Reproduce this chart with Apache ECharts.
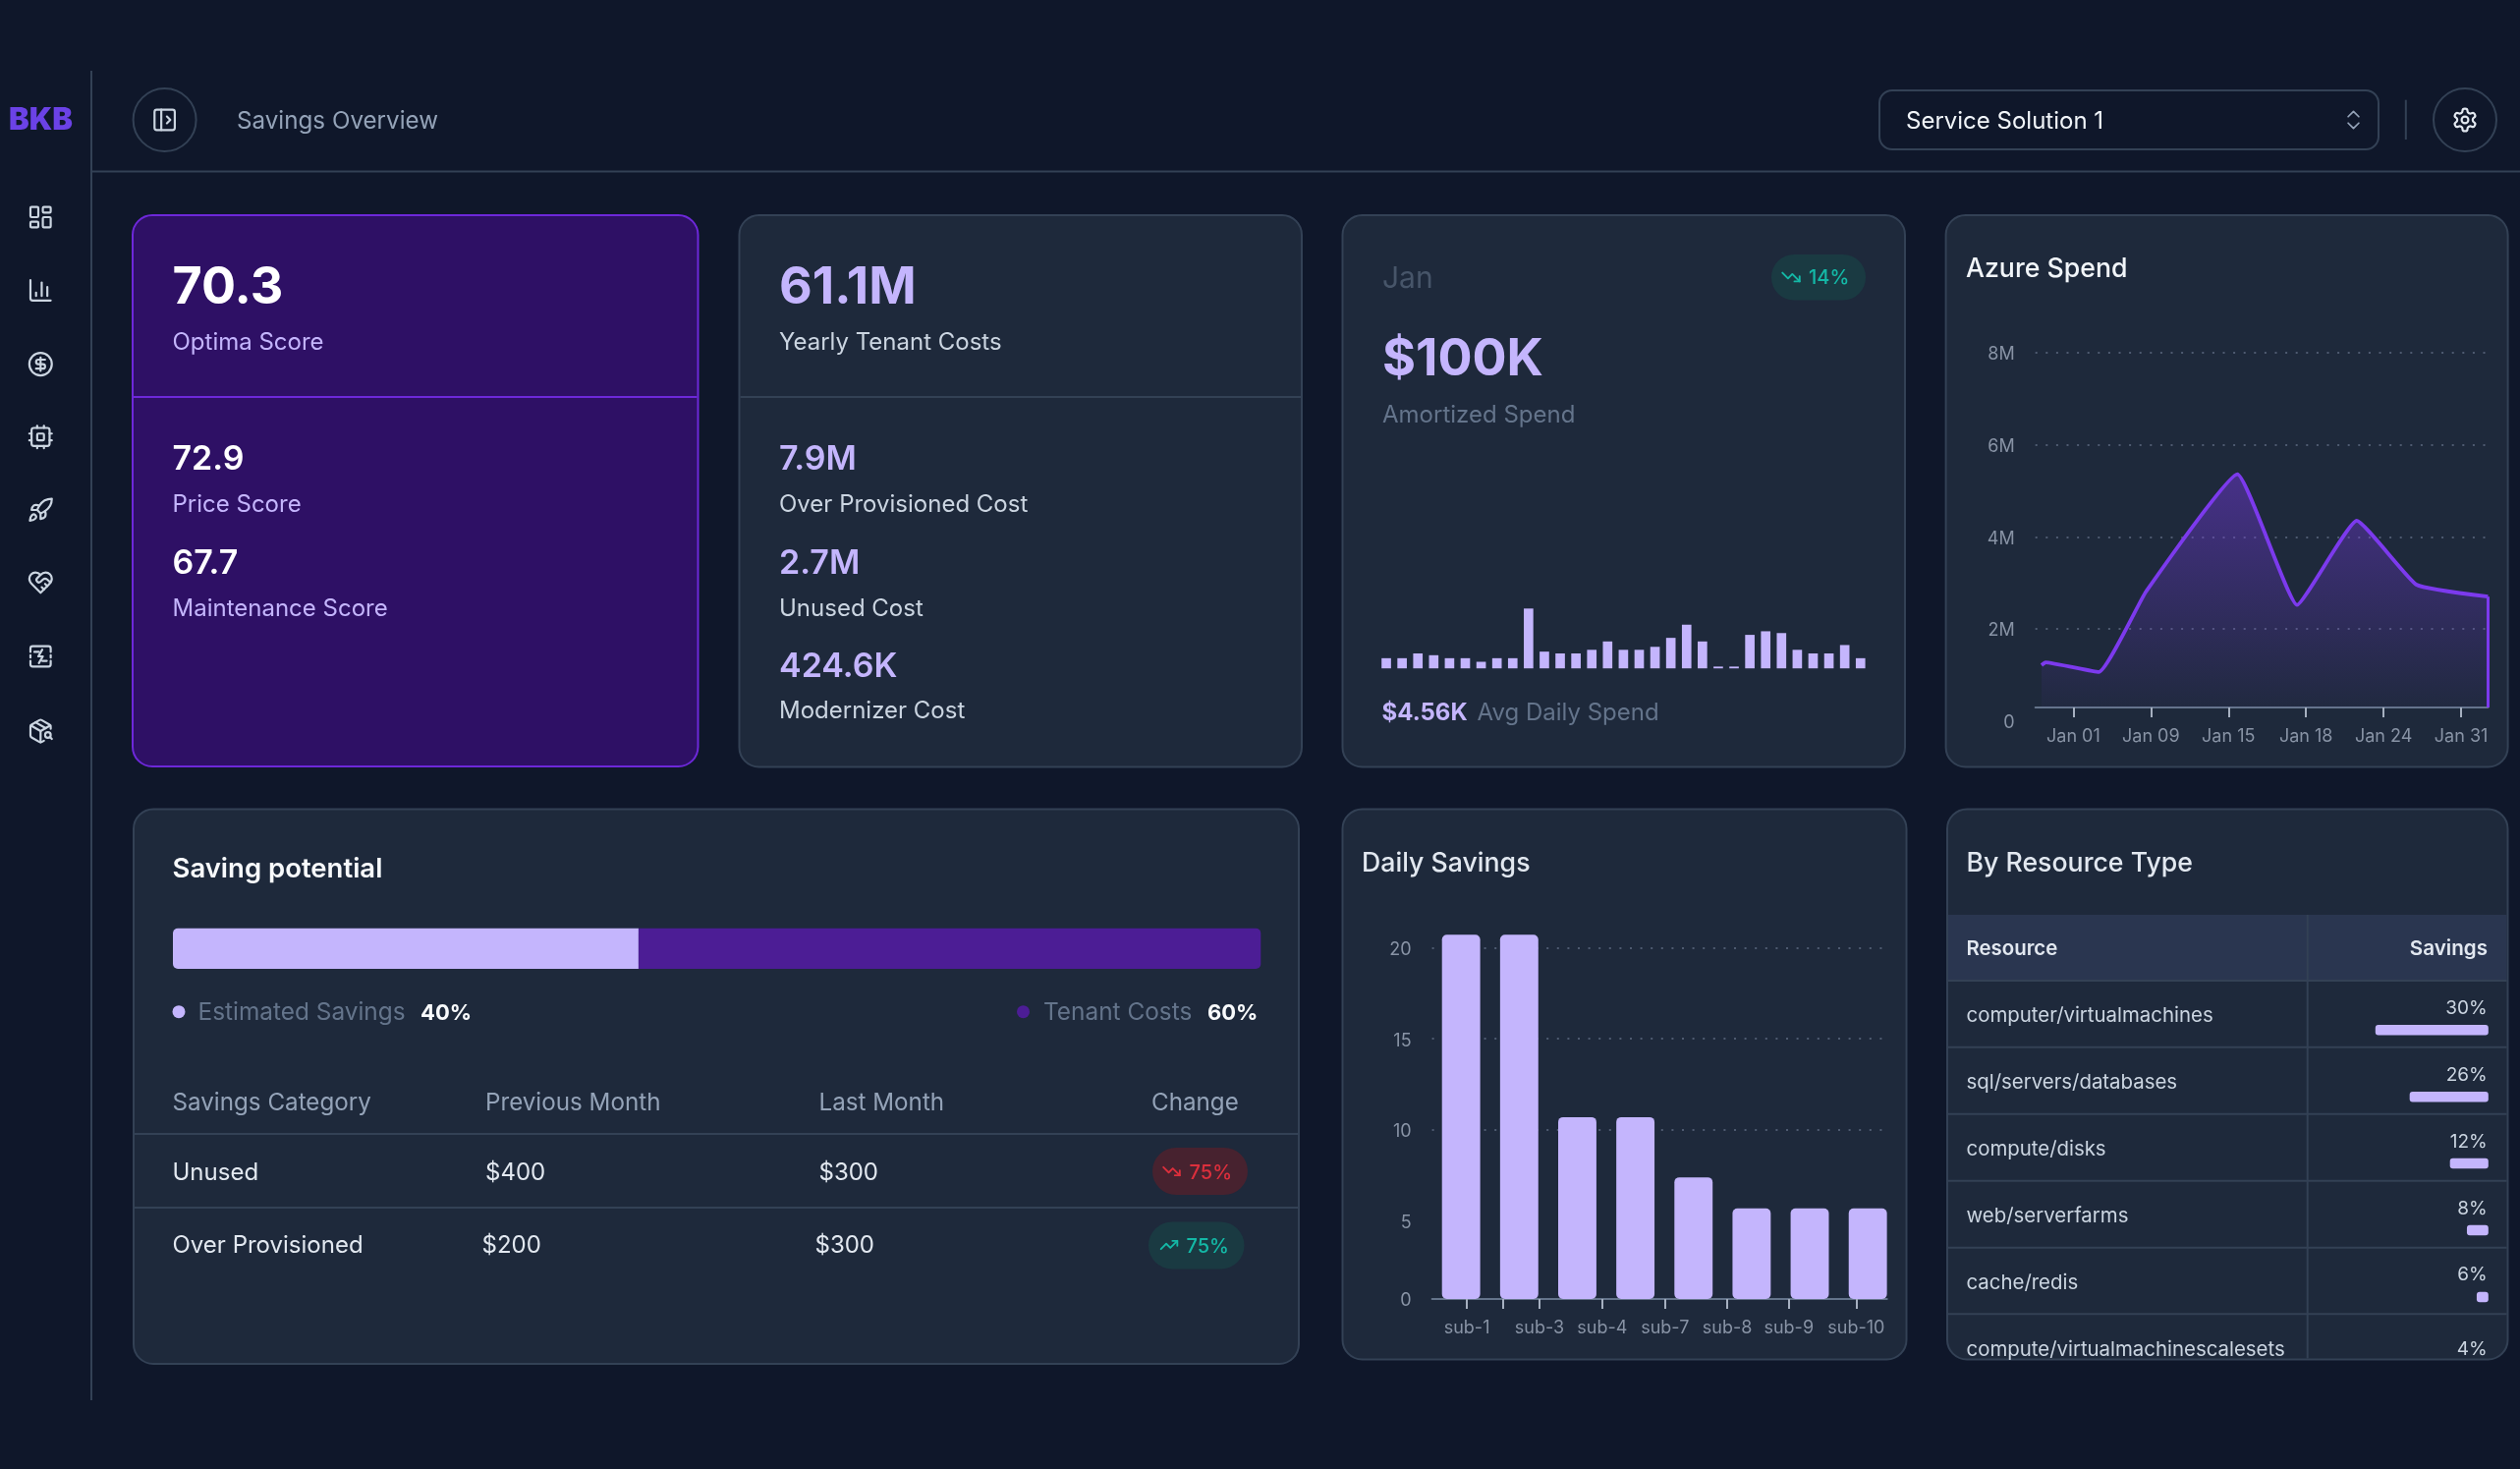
<!DOCTYPE html>
<html><head><meta charset="utf-8"><title>Savings Overview</title>
<style>html,body{margin:0;padding:0;background:#0f172a;overflow:hidden}#c{width:2565px;height:1495px}</style>
<script src="https://cdn.jsdelivr.net/npm/echarts@6/dist/echarts.min.js"></script></head>
<body><div id="c"></div><script>
// ---- data ----
const dailySpendK = [1.7,1.7,2.5,2.2,1.7,1.7,1.1,1.7,1.7,10,2.8,2.5,2.5,3.1,4.5,3.1,3.1,3.6,5.1,7.3,4.5,0.3,0.3,5.6,6.2,5.9,3.1,2.5,2.5,3.9,1.7];
const spendPos = [-0.41,-0.36,0.327,0.9375,2.115,2.885,3.654,4.423,5.346];
const spendM = [1.21,1.27,1.06,2.81,5.36,2.52,4.35,2.96,2.7];
const spendTickLabels = ['Jan 01','Jan 09','Jan 15','Jan 18','Jan 24','Jan 31'];
const subscriptions = ['sub-1','sub-2','sub-3','sub-4','sub-7','sub-8','sub-9','sub-10'];
const dailySavings = [20.7,20.7,10.7,10.7,7.4,5.7,5.7,5.7];
const subTickPos = [0.10,0.716,1.35,2.43,3.51,4.58,5.64,6.80];
const subTickLabels = ['sub-1','','sub-3','sub-4','sub-7','sub-8','sub-9','sub-10'];
const savingsSplit = [42.8,57.2];
const resources = ['computer/virtualmachines','sql/servers/databases','compute/disks','web/serverfarms','cache/redis','compute/virtualmachinescalesets'];
const resourcePct = ['30%','26%','12%','8%','6%','4%'];
const resourceBar = [30,20.9,10.2,5.7,3.1,null];
const tableHead = ['Savings Category','Previous Month','Last Month','Change'];
const tableRows = [['Unused','$400','$300','75%'],['Over Provisioned','$200','$300','75%']];

// ---- palette ----
const F='Inter', LIGHT='#c4b5fd', CARD='#1e293b', EDGE='#334155', MUTE='#64748b', TICK='#8893a5';
const TEAL='#14b8a6', RED='#dc2f3c', VIOLET='#7c3aed', DEEP='#4c1d95';

// ---- icons ----
const I={
 dash:['M4 3h5a1 1 0 0 1 1 1v7a1 1 0 0 1-1 1H4a1 1 0 0 1-1-1V4a1 1 0 0 1 1-1z','M15 3h5a1 1 0 0 1 1 1v3a1 1 0 0 1-1 1h-5a1 1 0 0 1-1-1V4a1 1 0 0 1 1-1z','M15 12h5a1 1 0 0 1 1 1v7a1 1 0 0 1-1 1h-5a1 1 0 0 1-1-1v-7a1 1 0 0 1 1-1z','M4 16h5a1 1 0 0 1 1 1v3a1 1 0 0 1-1 1H4a1 1 0 0 1-1-1v-3a1 1 0 0 1 1-1z'],
 chart:['M3 3v16a2 2 0 0 0 2 2h16','M18 17V9','M13 17V5','M8 17v-3'],
 dollar:['M12 2a10 10 0 1 0 0 20a10 10 0 1 0 0-20z','M16 8h-6a2 2 0 1 0 0 4h4a2 2 0 1 1 0 4H8','M12 18V6'],
 cpu:['M6 4h12a2 2 0 0 1 2 2v12a2 2 0 0 1-2 2H6a2 2 0 0 1-2-2V6a2 2 0 0 1 2-2z','M10 9h4a1 1 0 0 1 1 1v4a1 1 0 0 1-1 1h-4a1 1 0 0 1-1-1v-4a1 1 0 0 1 1-1z','M15 2v2','M15 20v2','M2 15h2','M2 9h2','M20 15h2','M20 9h2','M9 2v2','M9 20v2'],
 rocket:['M4.5 16.5c-1.5 1.26-2 5-2 5s3.74-.5 5-2c.71-.84.7-2.13-.09-2.91a2.18 2.18 0 0 0-2.91-.09z','M12 15l-3-3a22 22 0 0 1 2-3.95A12.88 12.88 0 0 1 22 2c0 2.72-.78 7.5-6 11a22.35 22.35 0 0 1-4 2z','M9 12H4s.55-3.03 2-4c1.62-1.08 5 0 5 0','M12 15v5s3.03-.55 4-2c1.08-1.62 0-5 0-5'],
 heart:['M19 14c1.49-1.46 3-3.21 3-5.5A5.5 5.5 0 0 0 16.5 3c-1.76 0-3 .5-4.5 2-1.5-1.5-2.74-2-4.5-2A5.5 5.5 0 0 0 2 8.5c0 2.3 1.5 4.05 3 5.5l7 7z','M12 5L9.04 7.96a2.17 2.17 0 0 0 0 3.08c.82.82 2.13.85 3 .07l2.07-1.9a2.82 2.82 0 0 1 3.79 0l2.96 2.66','M18 15l-2-2','M15 18l-2-2'],
 bolt:['M3 8V5a2 2 0 0 1 2-2h14a2 2 0 0 1 2 2v3','M3 16v3a2 2 0 0 0 2 2h14a2 2 0 0 0 2-2v-3','M3 11v2','M21 11v2','M6.5 8h4','M13.5 16h4','M13.5 6l-3.5 6h4l-3.5 6'],
 pkg:['M21 10V8a2 2 0 0 0-1-1.73l-7-4a2 2 0 0 0-2 0l-7 4A2 2 0 0 0 3 8v8a2 2 0 0 0 1 1.73l7 4a2 2 0 0 0 2 0l2-1.14','M7.5 4.27l9 5.15','M3.29 7L12 12l8.71-5','M12 22V12','M16 15.5a2.5 2.5 0 1 0 5 0a2.5 2.5 0 1 0-5 0','M20.27 17.27L22 19'],
 panel:['M5 3h14a2 2 0 0 1 2 2v14a2 2 0 0 1-2 2H5a2 2 0 0 1-2-2V5a2 2 0 0 1 2-2z','M9 3v18','M14 9l3 3-3 3'],
 gear:['M12.22 2h-.44a2 2 0 0 0-2 2v.18a2 2 0 0 1-1 1.73l-.43.25a2 2 0 0 1-2 0l-.15-.08a2 2 0 0 0-2.73.73l-.22.38a2 2 0 0 0 .73 2.73l.15.1a2 2 0 0 1 1 1.72v.51a2 2 0 0 1-1 1.74l-.15.09a2 2 0 0 0-.73 2.73l.22.38a2 2 0 0 0 2.73.73l.15-.08a2 2 0 0 1 2 0l.43.25a2 2 0 0 1 1 1.73V20a2 2 0 0 0 2 2h.44a2 2 0 0 0 2-2v-.18a2 2 0 0 1 1-1.73l.43-.25a2 2 0 0 1 2 0l.15.08a2 2 0 0 0 2.73-.73l.22-.39a2 2 0 0 0-.73-2.73l-.15-.08a2 2 0 0 1-1-1.74v-.5a2 2 0 0 1 1-1.74l.15-.09a2 2 0 0 0 .73-2.73l-.22-.38a2 2 0 0 0-2.73-.73l-.15.08a2 2 0 0 1-2 0l-.43-.25a2 2 0 0 1-1-1.73V4a2 2 0 0 0-2-2z','M9 12a3 3 0 1 0 6 0a3 3 0 1 0-6 0'],
 down:['M22 17l-8.5-8.5-5 5L2 7','M16 17h6v-6'],
 up:['M22 7l-8.5 8.5-5-5L2 17','M16 7h6v6'],
 updown:['M7 15l5 5 5-5','M7 9l5-5 5 5']
};

// ---- graphic helpers ----
const g=[], iconEls=[];
const T=(text,x,y,size,fill,weight=400,align='left')=>{const dy=size>=34?3:(size>20?1.2:1);g.push({type:'text',x,y:y+dy,z:5,silent:true,style:{text,fill,align,textAlign:align,verticalAlign:'middle',textVerticalAlign:'middle',fontFamily:F,fontSize:size,fontWeight:weight}});};
const R=(x,y,w,h,r,fill,stroke,lw=2,z=-2)=>g.push({type:'rect',z,silent:true,shape:{x,y,width:w,height:h,r},style:{fill:fill||'none',stroke:stroke||'none',lineWidth:lw}});
const L=(x1,y1,x2,y2,stroke,lw=2)=>g.push({type:'line',z:-1,silent:true,shape:{x1,y1,x2,y2},style:{stroke,lineWidth:lw}});
const C=(cx,cy,r,fill,stroke,lw=2)=>g.push({type:'circle',z:4,silent:true,shape:{cx,cy,r},style:{fill:fill||'none',stroke:stroke||'none',lineWidth:lw}});
const ICON=(paths,cx,cy,box,stroke,lw=1.9)=>{const s=box/24;paths.forEach(d=>iconEls.push({type:'path',x:cx-box/2,y:cy-box/2,scaleX:s,scaleY:s,shape:{pathData:d},style:{fill:'none',stroke,lineWidth:lw,lineCap:'round',lineJoin:'round'}}));};

// frame
L(93,72,93,1425,EDGE); L(93,174.5,2565,174.5,EDGE);
T('BKB',41.5,121,31,'#6b42e6',900,'center');
[I.dash,I.chart,I.dollar,I.cpu,I.rocket,I.heart,I.bolt,I.pkg].forEach((ic,i)=>ICON(ic,41.3,[221,295.5,370.6,444.7,519,593,668,744][i],27.5,'#cbd5e1'));
C(167.6,122,32,null,EDGE); ICON(I.panel,167.6,122,27.5,'#cbd5e1');
T('Savings Overview',241,122.6,24.2,'#94a3b8');
R(1913,92,508,60,13,null,EDGE,2);
T('Service Solution 1',1940,122.6,24,'#f1f5f9');
ICON(I.updown,2395.5,122,26,'#94a3b8',1.6);
L(2448.8,101.7,2448.8,142,EDGE);
C(2509,122,32,null,EDGE); ICON(I.gear,2509,122,27.5,'#e2e8f0');

// cards
R(135,219,575.5,561,20,'#2e1065','#6d28d9',2);
[[752.5,219,572.5,561.5],[1366.5,219,572.5,561.5],[1980.6,219,572,561.5],[136,823.5,1186,564.5],[1366.5,823.5,574,560],[1982,823.5,570.5,560]].forEach(c=>R(c[0],c[1],c[2],c[3],20,CARD,EDGE,2));

// card 1
const XA=175.5, XB=793;
T('70.3',XA,290.7,52,'#ffffff',700); T('Optima Score',XA,347.6,24,LIGHT,400);
L(136,404,709.5,404,'#6d28d9',2);
T('72.9',XA,465,34,'#ffffff',600); T('Price Score',XA,513,24,LIGHT);
T('67.7',XA,570.6,34,'#ffffff',600); T('Maintenance Score',XA,618.4,24,LIGHT);

// card 2
T('61.1M',XB,290.7,52,LIGHT,700); T('Yearly Tenant Costs',XB,347.6,24,'#cbd5e1');
L(753.5,404,1324,404,EDGE);
T('7.9M',XB,465,34,LIGHT,600); T('Over Provisioned Cost',XB,513,24,'#cbd5e1');
T('2.7M',XB,570.6,34,LIGHT,600); T('Unused Cost',XB,618.4,24,'#cbd5e1');
T('424.6K',XB,675.7,34,LIGHT,600); T('Modernizer Cost',XB,723,24,'#cbd5e1');

// card 3
T('Jan',1407,283,30,'#475569');
R(1803,259,96,46.5,23,'#1a3a42',null,0,-1); ICON(I.down,1823,282,21,TEAL,2.2); T('14%',1841,281.8,20,TEAL,500);
T('$100K',1407,363.5,52,LIGHT,700); T('Amortized Spend',1407,421.6,24,MUTE);
T('$4.56K',1406.5,725,24,LIGHT,700); T('Avg Daily Spend',1503.5,725,24,MUTE);

// titles
T('Azure Spend',2001,272.5,26.7,'#f1f5f9',500);
T('Daily Savings',1386,877.4,26.7,'#e2e8f0',500);
T('By Resource Type',2001.5,877.4,26.7,'#e2e8f0',500);
T('Saving potential',XA,884,27.5,'#f8fafc',600);

// saving potential legend + table
C(182,1029.7,6.5,LIGHT); T('Estimated Savings',201.5,1029.7,24.4,MUTE); T('40%',428,1029.7,22,'#f8fafc',700);
C(1041.5,1029.7,6.5,DEEP); T('Tenant Costs',1062,1029.7,24.4,MUTE); T('60%',1229,1029.7,22,'#f8fafc',700);
[XA,494,833.5,1172].forEach((x,i)=>T(tableHead[i],x,1121.5,24.2,'#94a3b8'));
L(137,1154,1321,1154,EDGE); L(137,1229,1321,1229,EDGE);
T(tableRows[0][0],XA,1192.5,24,'#e2e8f0'); T(tableRows[0][1],494,1192.5,24,'#e2e8f0'); T(tableRows[0][2],833.5,1192.5,24,'#e2e8f0');
R(1173,1168,97,48,24,'#47222f',null,0,-1); ICON(I.down,1192.5,1192,20,RED,2.2); T(tableRows[0][3],1210.6,1192.5,20,RED,500);
T(tableRows[1][0],XA,1267,24,'#e2e8f0'); T(tableRows[1][1],490.5,1267,24,'#e2e8f0'); T(tableRows[1][2],829.5,1267,24,'#e2e8f0');
R(1169,1243.5,97.5,48,24,'#1a3a42',null,0,-1); ICON(I.up,1190,1267,20,TEAL,2.2); T(tableRows[1][3],1207.5,1267.5,20,TEAL,500);

// resource table
g.push({type:'rect',z:-1,silent:true,shape:{x:1983,y:931,width:568.5,height:67},style:{fill:'#2a3650'}});
L(2348.7,931,2348.7,1382.5,EDGE);
[998,1065.7,1133.7,1201.7,1269.7,1337.3].forEach(y=>L(1983,y,2551.5,y,EDGE));
T('Resource',2001.5,965,20.4,'#e2e8f0',600); T('Savings',2532,965,20.6,'#e2e8f0',600,'right');
const pctY=[1025.5,1093.5,1161,1229,1296.5,1372.5], nameY=[1032.6,1101,1169,1236.6,1304.5,1372.5];
resources.forEach((r,i)=>{T(r,2001.5,nameY[i],20.4,'#cbd5e1');T(resourcePct[i],2531.7,pctY[i],19,'#cbd5e1',400,'right');});

// ---- axes / series ----
const hidden={show:false};
const tickText={color:TICK,fontFamily:F,fontSize:18};
const yLabelShift={verticalAlign:'top',lineHeight:4};
const option={
 backgroundColor:'#0f172a',animation:false,
 graphic:{elements:g},
 grid:[
  {left:1403,top:619.3,width:498.8,height:60.9},
  {left:2071.7,top:359,width:460.7,height:374.6},
  {left:1457.6,top:945.76,width:463.1,height:376.24},
  {left:176,top:944.7,width:1107.3,height:41.3},
  {left:2417.8,top:1014.35,width:115,height:407.4}
 ],
 xAxis:[
  {gridIndex:0,type:'category',data:dailySpendK.map((_,i)=>i+1),axisLine:hidden,axisTick:hidden,axisLabel:hidden},
  {gridIndex:1,type:'value',min:-0.49,max:5.346,offset:-13.6,
   axisLine:{show:true,onZero:false,lineStyle:{color:'#64748b',width:2}},
   axisTick:{show:true,length:10,customValues:spendTickLabels.map((_,i)=>i),lineStyle:{color:'#a6b0c0',width:2}},
   axisLabel:{show:true,margin:21,customValues:spendTickLabels.map((_,i)=>i),formatter:v=>spendTickLabels[v],...tickText},
   splitLine:hidden},
  {gridIndex:2,type:'value',min:-0.5,max:7.33,
   axisLine:{show:true,onZero:false,lineStyle:{color:'#64748b',width:2}},
   axisTick:{show:true,length:10,customValues:subTickPos,lineStyle:{color:'#a6b0c0',width:2}},
   axisLabel:{show:true,margin:21,customValues:subTickPos.filter((_,i)=>subTickLabels[i]),formatter:v=>subTickLabels[subTickPos.indexOf(v)],...tickText},
   splitLine:hidden},
  {gridIndex:3,type:'value',min:0,max:100,axisLine:hidden,axisTick:hidden,axisLabel:hidden,splitLine:hidden},
  {gridIndex:4,type:'value',min:0,max:30,inverse:true,axisLine:hidden,axisTick:hidden,axisLabel:hidden,splitLine:hidden}
 ],
 yAxis:[
  {gridIndex:0,type:'value',min:0,max:10,axisLine:hidden,axisTick:hidden,axisLabel:hidden,splitLine:hidden},
  {gridIndex:1,type:'value',min:0,max:8,interval:2,axisLine:hidden,axisTick:hidden,
   axisLabel:{margin:21,formatter:v=>v?v+'M':'0',...tickText,...yLabelShift},
   splitLine:{show:true,showMinLine:false,lineStyle:{color:'#4e5a70',width:2,type:[2,8.6]}}},
  {gridIndex:2,type:'value',min:0.725,max:21,axisLine:hidden,
   axisTick:{show:false,customValues:[5,10,15,20]},
   axisLabel:{margin:21,customValues:[0.725,5,10,15,20],formatter:v=>v<1?'0':String(v),...tickText,...yLabelShift},
   splitLine:{show:true,showMinLine:false,lineStyle:{color:'#4e5a70',width:2,type:[2,8.6]}}},
  {gridIndex:3,type:'category',data:['Saving potential'],axisLine:hidden,axisTick:hidden,axisLabel:hidden},
  {gridIndex:4,type:'category',inverse:true,data:resources,axisLine:hidden,axisTick:hidden,axisLabel:hidden}
 ],
 series:[
  {type:'bar',xAxisIndex:0,yAxisIndex:0,data:dailySpendK,barWidth:9.65,itemStyle:{color:LIGHT}},
  {type:'line',xAxisIndex:1,yAxisIndex:1,data:spendPos.map((x,i)=>[x,spendM[i]]),symbol:'none',smooth:0.12,
   lineStyle:{color:VIOLET,width:3.8},
   areaStyle:{origin:0.29,color:{type:'linear',x:0,y:0,x2:0,y2:1,colorStops:[{offset:0,color:'rgba(124,58,237,0.62)'},{offset:1,color:'rgba(124,58,237,0.04)'}]}},
   markLine:{silent:true,symbol:'none',label:{show:false},lineStyle:{color:VIOLET,width:3,type:'solid'},
    data:[[{coord:[spendPos[spendPos.length-1],0.29]},{coord:[spendPos[spendPos.length-1],spendM[spendM.length-1]]}]]}},
  {type:'bar',xAxisIndex:2,yAxisIndex:2,data:subscriptions.map((s,i)=>[i,dailySavings[i]]),barWidth:38.9,itemStyle:{color:LIGHT,borderRadius:5}},
  {type:'bar',name:'Estimated Savings',stack:'s',xAxisIndex:3,yAxisIndex:3,data:[savingsSplit[0]],barWidth:41.3,itemStyle:{color:LIGHT,borderRadius:[5,0,0,5]}},
  {type:'bar',name:'Tenant Costs',stack:'s',xAxisIndex:3,yAxisIndex:3,data:[savingsSplit[1]],barWidth:41.3,itemStyle:{color:DEEP,borderRadius:[0,5,5,0]}},
  {type:'bar',xAxisIndex:4,yAxisIndex:4,data:resourceBar,barWidth:10.5,itemStyle:{color:LIGHT,borderRadius:3}},
  {type:'custom',coordinateSystem:'none',silent:true,z:6,data:[0],renderItem:()=>({type:'group',children:iconEls})}
 ]
};
echarts.init(document.getElementById('c')).setOption(option);
</script></body></html>
